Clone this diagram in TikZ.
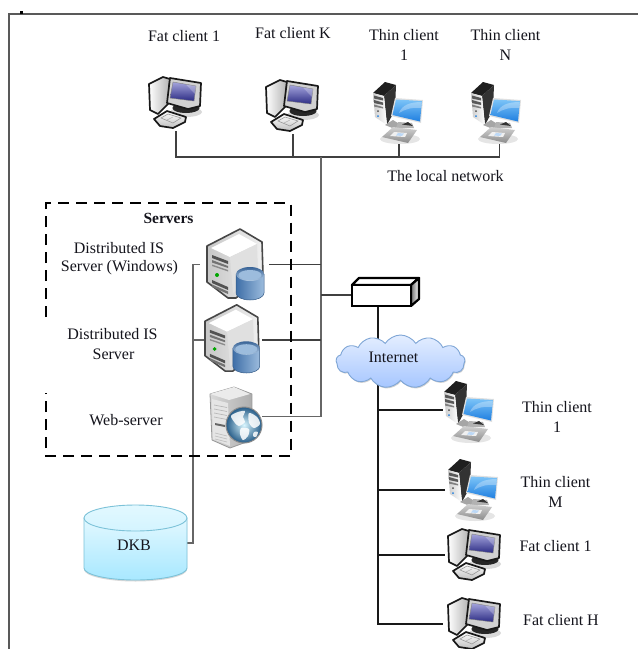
\documentclass[tikz,border=0pt]{standalone}
\usepackage{fontspec}
\setmainfont{Liberation Serif}
\usetikzlibrary{shapes.symbols,shadows,calc}
\definecolor{txt}{HTML}{14141C}
\definecolor{scrA}{HTML}{A4A4DC}
\definecolor{scrB}{HTML}{2C2C84}
\definecolor{blueA}{HTML}{1F7FE0}
\definecolor{blueB}{HTML}{7CC4F8}
\definecolor{dbA}{HTML}{3F6FA8}
\definecolor{dbB}{HTML}{9CBCDD}
\definecolor{cloudT}{HTML}{E4EEFF}
\definecolor{cloudB}{HTML}{A6C6FF}
\definecolor{cloudL}{HTML}{7FA6D6}
\definecolor{dkbT}{HTML}{E2F8FF}
\definecolor{dkbB}{HTML}{A8E8FF}
\definecolor{dkbL}{HTML}{7CC2D8}
\tikzset{
  x=1pt,y=-1pt,
  lbl/.style={inner sep=0pt,align=center,text=txt,font=\fontsize{16}{20}\selectfont},
  iconbox/.style={inner sep=0pt,outer sep=0pt,minimum width=#1},
  netdark/.style={draw=black!75,line width=1.1pt},
  netgray/.style={draw=black!60,line width=1.5pt},
  netblack/.style={draw=black!90,line width=1.1pt},
  pics/fatpc/.style={code={
    \fill[black!15] (46,42) ellipse [x radius=16pt,y radius=5pt];
    \filldraw[black!85,line width=1pt] (46,38) ellipse [x radius=13pt,y radius=4.5pt];
    \draw[black!90,line width=1.7pt,line join=round,left color=white,right color=black!30]
      (9,14) -- (23,7) -- (30,9) -- (28,34) -- (18,44) -- (10,40) -- cycle;
    \draw[black!90,line width=1.7pt,line join=round,fill=black!18]
      (30,8) -- (61,13) -- (60,36) -- (48,39) -- (27,33) -- cycle;
    \shade[top color=scrA,bottom color=scrB,draw=black!50,line width=.4pt]
      (33,12) -- (56,16) -- (54,31) -- (30,28) -- cycle;
    \fill[white,opacity=.25] (46,14.5) -- (56,16) -- (55,24) -- cycle;
    \draw[black!90,line width=1.7pt,line join=round,top color=white,bottom color=black!25]
      (14,49) -- (27,41) -- (46,47) -- (45,52) -- (33,58) -- (20,56) -- cycle;
    \draw[black!40,line width=.6pt] (21,48) -- (28,44) -- (41,48) -- (33,53) -- cycle;
    \draw[black!30,line width=.5pt] (33,47) -- (27,50);
  }},
  pics/thinpc/.style={code={
    \fill[black!10] (35,64) ellipse [x radius=20pt,y radius=5pt];
    \fill[black!88] (8,18) -- (20,7) -- (31,10) -- (19,21) -- cycle;
    \fill[black!80] (19,21) -- (31,10) -- (30,35) -- (22,50) -- cycle;
    \shade[left color=black!20,right color=white]
      (8,18) -- (19,21) -- (22,50) -- (10,42) -- cycle;
    \fill[black!65] (9,20.5) -- (18,23) -- (18,25.5) -- (9,23.5) -- cycle;
    \fill[black!65] (9,25) -- (18,27.5) -- (18,30) -- (9,28) -- cycle;
    \fill[black!50] (9,29.5) -- (18,32) -- (18,33.5) -- (9,31.5) -- cycle;
    \fill[black!70] (13,36) circle [radius=1pt];
    \fill[blueA] (13,41) circle [radius=1pt];
    \fill[black!35] (20,50) -- (28,45) -- (36,50) -- (30,54) -- cycle;
    \fill[black!12] (30,23) -- (58,25) -- (56,48) -- (26,41) -- cycle;
    \shade[top color=blueB,bottom color=blueA]
      (31,24.5) -- (57,26) -- (55,46.5) -- (27.5,40) -- cycle;
    \fill[white,opacity=.3] (34,38) .. controls (37,30) and (45,27) .. (56.8,27) -- (56,33) .. controls (48,32) and (40,34) .. (34,38) -- cycle;
    \fill[black!30] (33,47) -- (47,48) -- (49,53) -- (31,53) -- cycle;
    \fill[black!80] (37,49.5) -- (43,47) -- (48,51) -- cycle;
    \shade[top color=black!18,bottom color=black!45]
      (17,62) -- (28,52) -- (52,55) -- (43,68) -- cycle;
    \fill[black!6] (29,57) -- (42,58) -- (40,62) -- (25,61) -- cycle;
    \fill[blueA!30!white] (33,58) -- (39,58.5) -- (37,61) -- (31,60.5) -- cycle;
  }},
  pics/dbserver/.style={code={
    \draw[black!72,line width=1.6pt,line join=round,left color=black!22,right color=white!94!black]
      (7,21) -- (40,4) -- (62,17) -- (63,50) -- (36,73) -- (28,73) -- (7,57) -- cycle;
    \fill[white] (11,23) -- (39,9) -- (57,19) -- (30,32) -- cycle;
    \fill[black!12] (30,32) -- (57,19) -- (58,48) -- (33,68) -- cycle;
    \fill[black!68] (12,30) -- (28,36) -- (28,39) -- (12,33) -- cycle;
    \fill[black!55] (12,35) -- (28,41) -- (28,43) -- (12,37.5) -- cycle;
    \fill[black!45] (12,39.5) -- (28,45) -- (28,46.5) -- (12,41) -- cycle;
    \fill[green!65!black] (17,50) circle [radius=2pt];
    \fill[black!68] (12,55) -- (28,62) -- (28,65) -- (12,58) -- cycle;
    \fill[black!55] (12,59.5) -- (28,66.5) -- (28,69) -- (12,62) -- cycle;
    \shade[left color=dbA,right color=dbB,draw=dbA!80!black,line width=.5pt]
      (36,49) -- (36,68) arc [start angle=180,end angle=360,x radius=14pt,y radius=7pt]
      -- (64,49) -- cycle;
    \shade[top color=dbA!90!black,bottom color=dbB!80!white] (50,49) ellipse [x radius=14pt,y radius=7pt];
    \fill[dbB] (50,50) ellipse [x radius=11.5pt,y radius=5pt];
  }},
  pics/webserver/.style={code={
    \shade[left color=black!15,right color=black!32,draw=black!40,line width=.8pt,line join=round]
      (10,14) -- (34,7) -- (52,14) -- (52,60) -- (30,68) -- (12,60) -- cycle;
    \fill[black!8] (10,14) -- (34,7) -- (50,14) -- (29,20) -- cycle;
    \fill[black!10] (12,19) -- (28,23) -- (30,66) -- (13,59) -- cycle;
    \foreach \yy in {25,29,33,37}{\draw[black!28,line width=.7pt] (14,\yy) -- (27,\yy+2.5);}
    \fill[black!60] (15,43) -- (25,45) -- (25,47) -- (15,45) -- cycle;
    \foreach \yy in {53,56,59}{\draw[black!25,line width=.7pt] (15,\yy) -- (27,\yy+3);}
    \shade[inner color=blue!22!cyan!15!white,outer color=blue!45!cyan!45!black!85,draw=black!45,line width=1pt] (44,45) circle [radius=18pt];
    \fill[white,opacity=.85] plot[smooth cycle] coordinates {(31,36) (38,32) (45,31) (43,37) (45,42) (39,46) (35,43)};
    \fill[white,opacity=.85] plot[smooth cycle] coordinates {(49,33) (57,37) (60,44) (54,48) (49,43)};
    \fill[white,opacity=.85] plot[smooth cycle] coordinates {(41,48) (49,49) (48,56) (43,60) (40,54)};
    \fill[white,opacity=.85] plot[smooth cycle] coordinates {(54,52) (58,52) (56,57) (53,56)};
  }}
}
\begin{document}
\begin{tikzpicture}
\useasboundingbox (0,0) rectangle (638,649);
\fill[white] (0,0) rectangle (638,649);
% page frame
\draw[black!65,line width=1.2pt] (9,649) -- (9,14) -- (638,14);
\fill[black] (20,11) rectangle (23,14);

% anchor nodes of the icons
\node[iconbox=54pt,minimum height=54pt] (fatA) at (176,104) {};
\node[iconbox=54pt,minimum height=54pt] (fatK) at (293,107) {};
\node[iconbox=56pt,minimum height=62pt] (thinA) at (399,112) {};
\node[iconbox=56pt,minimum height=62pt] (thinN) at (499.5,112) {};
\node[iconbox=69pt,minimum height=70pt] (srvA) at (234.5,264.5) {};
\node[iconbox=57pt,minimum height=70pt] (srvB) at (233.5,340) {};
\node[iconbox=54pt,minimum height=60pt] (web) at (235,416.5) {};
\node[iconbox=59pt,minimum height=21pt] (sw) at (381.5,295) {};
\node[iconbox=56pt,minimum height=60pt] (thinC) at (471,410) {};
\node[iconbox=56pt,minimum height=60pt] (thinM) at (473,490) {};
\node[iconbox=56pt,minimum height=50pt] (fatC) at (473,555) {};
\node[iconbox=56pt,minimum height=50pt] (fatH) at (471,624) {};
\node[iconbox=103pt,minimum height=75pt] (dkb) at (135.5,543) {};
\coordinate (topbus) at (321,157);
\coordinate (graybus) at (193,264.5);
\coordinate (swdown) at (378,306);

% connectors
\draw[netdark] (fatA.south) |- (topbus) -| (thinN.south);
\draw[netdark] (fatK.south) -- (fatK.south |- topbus);
\draw[netdark] (thinA.south) -- (thinA.south |- topbus);
\draw[netgray] (topbus) |- (web.east);
\draw[netdark] (srvA.east) -- (srvA.east -| topbus);
\draw[netdark] (srvB.east) -- (srvB.east -| topbus);
\draw[netdark] (sw.west) -- (sw.west -| topbus);
\draw[netgray] (dkb.east) -| (graybus) -- (srvA.west);
\draw[netgray,line width=1.1pt] (srvB.west) -- (srvB.west -| graybus);
\draw[netblack] (swdown) |- (fatH.west);
\draw[netblack] (thinC.west -| swdown) -- (thinC.west);
\draw[netblack] (thinM.west -| swdown) -- (thinM.west);
\draw[netblack] (fatC.west -| swdown) -- (fatC.west);

% dashed servers box
\draw[black,line width=2pt,dash pattern=on 11pt off 7pt]
  (46,317) -- (46,203) -- (290.5,203) -- (290.5,456) -- (46,456) -- (46,393);

% icons
\pic at (140,70) {fatpc};
\pic at (257,73) {fatpc};
\pic at (365,75) {thinpc};
\pic at (463,75) {thinpc};
\pic at (200,225) {dbserver};
\pic[scale=.96] at (198.3,301) {dbserver};
\pic at (200,380) {webserver};
\pic at (436,374) {thinpc};
\pic at (440,452) {thinpc};
\pic at (439,522) {fatpc};
\pic at (439,591) {fatpc};

% switch
\fill[white,draw=black,line width=2.4pt,line join=round] (352,285) -- (359,278) -- (419,278) -- (411,285) -- cycle;
\shade[left color=black!55,right color=white,draw=black,line width=2.2pt,line join=round] (411,285) -- (419,278) -- (419,299) -- (411,306) -- cycle;
\draw[black,line width=2.6pt,fill=white,line join=miter] (352,285) rectangle (411,306);

% cloud
\node[cloud,cloud puffs=13,cloud puff arc=115,aspect=2.4,minimum width=129pt,minimum height=53pt,inner sep=0pt,
      top color=cloudT,bottom color=cloudB,draw=cloudL,line width=.9pt,
      drop shadow={shadow xshift=.8pt,shadow yshift=-1.2pt,opacity=.35}] (inet) at (400.5,361.5) {};

% database
\shade[top color=dkbT,bottom color=dkbB,draw=dkbL,line width=.9pt,
       drop shadow={shadow xshift=0pt,shadow yshift=-1.5pt,opacity=.3}]
  (84,518) -- (84,568) arc [start angle=180,end angle=360,x radius=51.5pt,y radius=12pt] -- (187,518) -- cycle;
\shade[top color=dkbT,bottom color=dkbT!75!dkbB,draw=dkbL,line width=.9pt]
  (135.5,518) ellipse [x radius=51.5pt,y radius=13pt];

% labels
\node[lbl] (t1) at (184,36) {Fat client 1};
\node[lbl] (t2) at (293,33) {Fat client K};
\node[lbl] (t3) at (404,45) {Thin client\\1};
\node[lbl] (t4) at (505.5,45) {Thin client\\N};
\node[lbl] (t5) at (445.5,176) {The local network};
\node[lbl,font=\fontsize{15.5}{20}\selectfont\bfseries] (t6) at (168.5,218) {Servers};
\node[lbl] (t7) at (119,248) {Distributed IS};
\node[lbl] (t8) at (119.5,268) {Server (Windows)};
\node[lbl] (t9) at (112.5,334) {Distributed IS};
\node[lbl] (t10) at (113.5,354) {Server};
\node[lbl] (t11) at (126,420) {Web-server};
\node[lbl] (t12) at (134,545) {DKB};
\node[lbl] (t13) at (393.5,357) {Internet};
\node[lbl] (t14) at (557,417) {Thin client\\1};
\node[lbl] (t15) at (555.5,492) {Thin client\\M};
\node[lbl] (t16) at (555.5,546) {Fat client 1};
\node[lbl] (t17) at (561,620) {Fat client H};
\end{tikzpicture}
\end{document}
